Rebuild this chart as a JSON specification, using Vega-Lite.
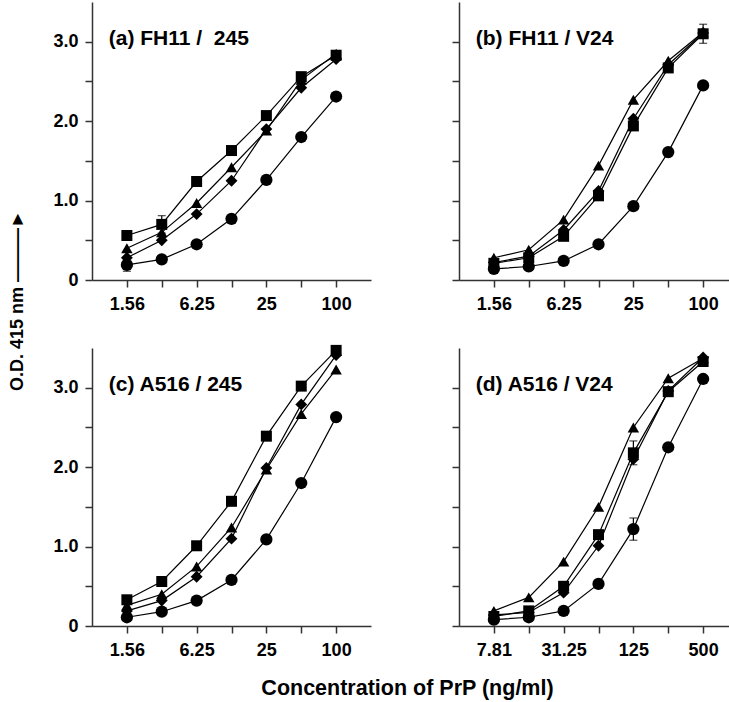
{
  "$schema": "https://vega.github.io/schema/vega-lite/v6.json",
  "autosize": {"type": "pad"},
  "padding": {"left": 8, "top": 2, "right": 0, "bottom": 0},
  "background": "white",
  "config": {
    "font": "Liberation Sans",
    "view": {"stroke": null},
    "axis": {
      "domainColor": "#333",
      "domainWidth": 1.5,
      "tickColor": "#333",
      "tickWidth": 1.5,
      "tickSize": 7,
      "labelFont": "Liberation Sans",
      "labelFontSize": 18,
      "labelFontWeight": "bold",
      "labelColor": "#000",
      "grid": false
    },
    "axisX": {"labelPadding": 8},
    "axisY": {"labelPadding": 7}
  },
  "datasets": {
    "d": [
      {"panel": "a", "series": "sq", "conc": 1.5625, "od": 0.56},
      {"panel": "a", "series": "sq", "conc": 3.125, "od": 0.70, "err": 0.11},
      {"panel": "a", "series": "sq", "conc": 6.25, "od": 1.24},
      {"panel": "a", "series": "sq", "conc": 12.5, "od": 1.63},
      {"panel": "a", "series": "sq", "conc": 25, "od": 2.07},
      {"panel": "a", "series": "sq", "conc": 50, "od": 2.56},
      {"panel": "a", "series": "sq", "conc": 100, "od": 2.83},
      {"panel": "a", "series": "tri", "conc": 1.5625, "od": 0.40},
      {"panel": "a", "series": "tri", "conc": 3.125, "od": 0.60},
      {"panel": "a", "series": "tri", "conc": 6.25, "od": 0.97},
      {"panel": "a", "series": "tri", "conc": 12.5, "od": 1.42},
      {"panel": "a", "series": "tri", "conc": 25, "od": 1.88},
      {"panel": "a", "series": "tri", "conc": 50, "od": 2.52},
      {"panel": "a", "series": "tri", "conc": 100, "od": 2.85},
      {"panel": "a", "series": "dia", "conc": 1.5625, "od": 0.28},
      {"panel": "a", "series": "dia", "conc": 3.125, "od": 0.50},
      {"panel": "a", "series": "dia", "conc": 6.25, "od": 0.83},
      {"panel": "a", "series": "dia", "conc": 12.5, "od": 1.25},
      {"panel": "a", "series": "dia", "conc": 25, "od": 1.90},
      {"panel": "a", "series": "dia", "conc": 50, "od": 2.42},
      {"panel": "a", "series": "dia", "conc": 100, "od": 2.78},
      {"panel": "a", "series": "cir", "conc": 1.5625, "od": 0.19, "err": 0.08},
      {"panel": "a", "series": "cir", "conc": 3.125, "od": 0.26},
      {"panel": "a", "series": "cir", "conc": 6.25, "od": 0.45},
      {"panel": "a", "series": "cir", "conc": 12.5, "od": 0.77},
      {"panel": "a", "series": "cir", "conc": 25, "od": 1.26},
      {"panel": "a", "series": "cir", "conc": 50, "od": 1.80},
      {"panel": "a", "series": "cir", "conc": 100, "od": 2.31},

      {"panel": "b", "series": "sq", "conc": 1.5625, "od": 0.21},
      {"panel": "b", "series": "sq", "conc": 3.125, "od": 0.28},
      {"panel": "b", "series": "sq", "conc": 6.25, "od": 0.55},
      {"panel": "b", "series": "sq", "conc": 12.5, "od": 1.06},
      {"panel": "b", "series": "sq", "conc": 25, "od": 1.94},
      {"panel": "b", "series": "sq", "conc": 50, "od": 2.67},
      {"panel": "b", "series": "sq", "conc": 100, "od": 3.10, "err": 0.12},
      {"panel": "b", "series": "tri", "conc": 1.5625, "od": 0.28},
      {"panel": "b", "series": "tri", "conc": 3.125, "od": 0.38},
      {"panel": "b", "series": "tri", "conc": 6.25, "od": 0.76},
      {"panel": "b", "series": "tri", "conc": 12.5, "od": 1.44},
      {"panel": "b", "series": "tri", "conc": 25, "od": 2.27},
      {"panel": "b", "series": "tri", "conc": 50, "od": 2.76},
      {"panel": "b", "series": "tri", "conc": 100, "od": 3.12},
      {"panel": "b", "series": "dia", "conc": 1.5625, "od": 0.22},
      {"panel": "b", "series": "dia", "conc": 3.125, "od": 0.30},
      {"panel": "b", "series": "dia", "conc": 6.25, "od": 0.63},
      {"panel": "b", "series": "dia", "conc": 12.5, "od": 1.12},
      {"panel": "b", "series": "dia", "conc": 25, "od": 2.03},
      {"panel": "b", "series": "dia", "conc": 50, "od": 2.71},
      {"panel": "b", "series": "dia", "conc": 100, "od": 3.11},
      {"panel": "b", "series": "cir", "conc": 1.5625, "od": 0.14},
      {"panel": "b", "series": "cir", "conc": 3.125, "od": 0.17},
      {"panel": "b", "series": "cir", "conc": 6.25, "od": 0.24},
      {"panel": "b", "series": "cir", "conc": 12.5, "od": 0.45},
      {"panel": "b", "series": "cir", "conc": 25, "od": 0.93},
      {"panel": "b", "series": "cir", "conc": 50, "od": 1.61},
      {"panel": "b", "series": "cir", "conc": 100, "od": 2.45},

      {"panel": "c", "series": "sq", "conc": 1.5625, "od": 0.33},
      {"panel": "c", "series": "sq", "conc": 3.125, "od": 0.56},
      {"panel": "c", "series": "sq", "conc": 6.25, "od": 1.01},
      {"panel": "c", "series": "sq", "conc": 12.5, "od": 1.57},
      {"panel": "c", "series": "sq", "conc": 25, "od": 2.39},
      {"panel": "c", "series": "sq", "conc": 50, "od": 3.02},
      {"panel": "c", "series": "sq", "conc": 100, "od": 3.47},
      {"panel": "c", "series": "tri", "conc": 1.5625, "od": 0.26},
      {"panel": "c", "series": "tri", "conc": 3.125, "od": 0.40},
      {"panel": "c", "series": "tri", "conc": 6.25, "od": 0.75},
      {"panel": "c", "series": "tri", "conc": 12.5, "od": 1.24},
      {"panel": "c", "series": "tri", "conc": 25, "od": 1.97},
      {"panel": "c", "series": "tri", "conc": 50, "od": 2.67},
      {"panel": "c", "series": "tri", "conc": 100, "od": 3.23},
      {"panel": "c", "series": "dia", "conc": 1.5625, "od": 0.19},
      {"panel": "c", "series": "dia", "conc": 3.125, "od": 0.32},
      {"panel": "c", "series": "dia", "conc": 6.25, "od": 0.62},
      {"panel": "c", "series": "dia", "conc": 12.5, "od": 1.10},
      {"panel": "c", "series": "dia", "conc": 25, "od": 1.99},
      {"panel": "c", "series": "dia", "conc": 50, "od": 2.79},
      {"panel": "c", "series": "dia", "conc": 100, "od": 3.41},
      {"panel": "c", "series": "cir", "conc": 1.5625, "od": 0.11},
      {"panel": "c", "series": "cir", "conc": 3.125, "od": 0.18},
      {"panel": "c", "series": "cir", "conc": 6.25, "od": 0.32},
      {"panel": "c", "series": "cir", "conc": 12.5, "od": 0.58},
      {"panel": "c", "series": "cir", "conc": 25, "od": 1.09},
      {"panel": "c", "series": "cir", "conc": 50, "od": 1.80},
      {"panel": "c", "series": "cir", "conc": 100, "od": 2.63},

      {"panel": "d", "series": "sq", "conc": 7.8125, "od": 0.12},
      {"panel": "d", "series": "sq", "conc": 15.625, "od": 0.19},
      {"panel": "d", "series": "sq", "conc": 31.25, "od": 0.50},
      {"panel": "d", "series": "sq", "conc": 62.5, "od": 1.15},
      {"panel": "d", "series": "sq", "conc": 125, "od": 2.18, "err": 0.15},
      {"panel": "d", "series": "sq", "conc": 250, "od": 2.95},
      {"panel": "d", "series": "sq", "conc": 500, "od": 3.33},
      {"panel": "d", "series": "tri", "conc": 7.8125, "od": 0.19},
      {"panel": "d", "series": "tri", "conc": 15.625, "od": 0.36},
      {"panel": "d", "series": "tri", "conc": 31.25, "od": 0.81},
      {"panel": "d", "series": "tri", "conc": 62.5, "od": 1.50},
      {"panel": "d", "series": "tri", "conc": 125, "od": 2.50},
      {"panel": "d", "series": "tri", "conc": 250, "od": 3.12},
      {"panel": "d", "series": "tri", "conc": 500, "od": 3.37},
      {"panel": "d", "series": "dia", "conc": 7.8125, "od": 0.14},
      {"panel": "d", "series": "dia", "conc": 15.625, "od": 0.17},
      {"panel": "d", "series": "dia", "conc": 31.25, "od": 0.42},
      {"panel": "d", "series": "dia", "conc": 62.5, "od": 1.01},
      {"panel": "d", "series": "dia", "conc": 125, "od": 2.10},
      {"panel": "d", "series": "dia", "conc": 250, "od": 2.96},
      {"panel": "d", "series": "dia", "conc": 500, "od": 3.38},
      {"panel": "d", "series": "cir", "conc": 7.8125, "od": 0.08},
      {"panel": "d", "series": "cir", "conc": 15.625, "od": 0.11},
      {"panel": "d", "series": "cir", "conc": 31.25, "od": 0.19},
      {"panel": "d", "series": "cir", "conc": 62.5, "od": 0.53},
      {"panel": "d", "series": "cir", "conc": 125, "od": 1.22, "err": 0.14},
      {"panel": "d", "series": "cir", "conc": 250, "od": 2.25},
      {"panel": "d", "series": "cir", "conc": 500, "od": 3.11}
    ]
  },
  "title": {
    "text": "Concentration of PrP (ng/ml)",
    "orient": "bottom",
    "anchor": "middle",
    "fontSize": 21.5,
    "fontWeight": "bold",
    "color": "#000",
    "offset": 19,
    "dx": 34
  },
  "vconcat": [
    {
      "title": {
        "text": "O.D. 415 nm  ———►",
        "orient": "left",
        "anchor": "middle",
        "fontSize": 18,
        "fontWeight": "bold",
        "color": "#000",
        "offset": 26,
        "dx": 30
      },
      "columns": 2,
      "bounds": "flush",
      "spacing": {"row": 68, "column": 88},
      "concat": [
        {
          "width": 279, "height": 278,
          "layer": [
            {"data": {"name": "d"},
             "transform": [{"filter": "datum.panel == 'a'"}],
             "mark": {"type": "line", "color": "black", "strokeWidth": 1.2},
             "encoding": {
               "x": {"field": "conc", "type": "quantitative", "scale": {"type": "log", "domain": [0.78125, 200], "nice": false}, "axis": {"title": null, "values": [1.5625, 3.125, 6.25, 12.5, 25, 50, 100], "labelExpr": "datum.value < 2 ? '1.56' : datum.value == 6.25 ? '6.25' : datum.value == 25 ? '25' : datum.value == 100 ? '100' : ''"}},
               "y": {"field": "od", "type": "quantitative", "scale": {"domain": [0, 3.5], "nice": false}, "axis": {"title": null, "values": [0, 0.5, 1, 1.5, 2, 2.5, 3], "labelExpr": "datum.value == 0 ? '0' : datum.value % 1 == 0 ? format(datum.value, '.1f') : ''"}},
               "detail": {"field": "series"}
             }},
            {"data": {"name": "d"},
             "transform": [{"filter": "datum.panel == 'a' && datum.err > 0"}],
             "mark": {"type": "errorbar", "color": "black", "ticks": {"size": 8}, "thickness": 1.2},
             "encoding": {
               "x": {"field": "conc", "type": "quantitative"},
               "y": {"field": "od", "type": "quantitative", "title": null},
               "yError": {"field": "err"}
             }},
            {"data": {"name": "d"},
             "transform": [{"filter": "datum.panel == 'a'"}],
             "mark": {"type": "point", "filled": true, "color": "black", "opacity": 1},
             "encoding": {
               "x": {"field": "conc", "type": "quantitative"},
               "y": {"field": "od", "type": "quantitative"},
               "shape": {"field": "series", "type": "nominal", "scale": {"domain": ["sq", "tri", "dia", "cir"], "range": ["square", "triangle-up", "diamond", "circle"]}, "legend": null},
               "size": {"field": "series", "type": "nominal", "scale": {"domain": ["sq", "tri", "dia", "cir"], "range": [121, 150, 150, 100]}, "legend": null}
             }},
            {"data": {"values": [{"label": "(a) FH11 / \u00a0245", "conc": 1.09, "od": 2.96}]},
             "mark": {"type": "text", "align": "left", "baseline": "alphabetic", "fontSize": 21, "fontWeight": "bold", "color": "#000"},
             "encoding": {
               "x": {"field": "conc", "type": "quantitative"},
               "y": {"field": "od", "type": "quantitative"},
               "text": {"field": "label"}
             }}
          ]
        },
        {
          "width": 279, "height": 278,
          "layer": [
            {"data": {"name": "d"},
             "transform": [{"filter": "datum.panel == 'b'"}],
             "mark": {"type": "line", "color": "black", "strokeWidth": 1.2},
             "encoding": {
               "x": {"field": "conc", "type": "quantitative", "scale": {"type": "log", "domain": [0.78125, 200], "nice": false}, "axis": {"title": null, "values": [1.5625, 3.125, 6.25, 12.5, 25, 50, 100], "labelExpr": "datum.value < 2 ? '1.56' : datum.value == 6.25 ? '6.25' : datum.value == 25 ? '25' : datum.value == 100 ? '100' : ''"}},
               "y": {"field": "od", "type": "quantitative", "scale": {"domain": [0, 3.5], "nice": false}, "axis": {"title": null, "values": [0, 0.5, 1, 1.5, 2, 2.5, 3], "labels": false}},
               "detail": {"field": "series"}
             }},
            {"data": {"name": "d"},
             "transform": [{"filter": "datum.panel == 'b' && datum.err > 0"}],
             "mark": {"type": "errorbar", "color": "black", "ticks": {"size": 8}, "thickness": 1.2},
             "encoding": {
               "x": {"field": "conc", "type": "quantitative"},
               "y": {"field": "od", "type": "quantitative", "title": null},
               "yError": {"field": "err"}
             }},
            {"data": {"name": "d"},
             "transform": [{"filter": "datum.panel == 'b'"}],
             "mark": {"type": "point", "filled": true, "color": "black", "opacity": 1},
             "encoding": {
               "x": {"field": "conc", "type": "quantitative"},
               "y": {"field": "od", "type": "quantitative"},
               "shape": {"field": "series", "type": "nominal", "scale": {"domain": ["sq", "tri", "dia", "cir"], "range": ["square", "triangle-up", "diamond", "circle"]}, "legend": null},
               "size": {"field": "series", "type": "nominal", "scale": {"domain": ["sq", "tri", "dia", "cir"], "range": [121, 150, 150, 100]}, "legend": null}
             }},
            {"data": {"values": [{"label": "(b) FH11 / V24", "conc": 1.09, "od": 2.96}]},
             "mark": {"type": "text", "align": "left", "baseline": "alphabetic", "fontSize": 21, "fontWeight": "bold", "color": "#000"},
             "encoding": {
               "x": {"field": "conc", "type": "quantitative"},
               "y": {"field": "od", "type": "quantitative"},
               "text": {"field": "label"}
             }}
          ]
        },
        {
          "width": 279, "height": 278,
          "layer": [
            {"data": {"name": "d"},
             "transform": [{"filter": "datum.panel == 'c'"}],
             "mark": {"type": "line", "color": "black", "strokeWidth": 1.2},
             "encoding": {
               "x": {"field": "conc", "type": "quantitative", "scale": {"type": "log", "domain": [0.78125, 200], "nice": false}, "axis": {"title": null, "values": [1.5625, 3.125, 6.25, 12.5, 25, 50, 100], "labelExpr": "datum.value < 2 ? '1.56' : datum.value == 6.25 ? '6.25' : datum.value == 25 ? '25' : datum.value == 100 ? '100' : ''"}},
               "y": {"field": "od", "type": "quantitative", "scale": {"domain": [0, 3.5], "nice": false}, "axis": {"title": null, "values": [0, 0.5, 1, 1.5, 2, 2.5, 3], "labelExpr": "datum.value == 0 ? '0' : datum.value % 1 == 0 ? format(datum.value, '.1f') : ''"}},
               "detail": {"field": "series"}
             }},
            {"data": {"name": "d"},
             "transform": [{"filter": "datum.panel == 'c'"}],
             "mark": {"type": "point", "filled": true, "color": "black", "opacity": 1},
             "encoding": {
               "x": {"field": "conc", "type": "quantitative"},
               "y": {"field": "od", "type": "quantitative"},
               "shape": {"field": "series", "type": "nominal", "scale": {"domain": ["sq", "tri", "dia", "cir"], "range": ["square", "triangle-up", "diamond", "circle"]}, "legend": null},
               "size": {"field": "series", "type": "nominal", "scale": {"domain": ["sq", "tri", "dia", "cir"], "range": [121, 150, 150, 100]}, "legend": null}
             }},
            {"data": {"values": [{"label": "(c) A516 / 245", "conc": 1.09, "od": 2.96}]},
             "mark": {"type": "text", "align": "left", "baseline": "alphabetic", "fontSize": 21, "fontWeight": "bold", "color": "#000"},
             "encoding": {
               "x": {"field": "conc", "type": "quantitative"},
               "y": {"field": "od", "type": "quantitative"},
               "text": {"field": "label"}
             }}
          ]
        },
        {
          "width": 279, "height": 278,
          "layer": [
            {"data": {"name": "d"},
             "transform": [{"filter": "datum.panel == 'd'"}],
             "mark": {"type": "line", "color": "black", "strokeWidth": 1.2},
             "encoding": {
               "x": {"field": "conc", "type": "quantitative", "scale": {"type": "log", "domain": [3.90625, 1000], "nice": false}, "axis": {"title": null, "values": [7.8125, 15.625, 31.25, 62.5, 125, 250, 500], "labelExpr": "datum.value < 10 ? '7.81' : datum.value == 31.25 ? '31.25' : datum.value == 125 ? '125' : datum.value == 500 ? '500' : ''"}},
               "y": {"field": "od", "type": "quantitative", "scale": {"domain": [0, 3.5], "nice": false}, "axis": {"title": null, "values": [0, 0.5, 1, 1.5, 2, 2.5, 3], "labels": false}},
               "detail": {"field": "series"}
             }},
            {"data": {"name": "d"},
             "transform": [{"filter": "datum.panel == 'd' && datum.err > 0"}],
             "mark": {"type": "errorbar", "color": "black", "ticks": {"size": 8}, "thickness": 1.2},
             "encoding": {
               "x": {"field": "conc", "type": "quantitative"},
               "y": {"field": "od", "type": "quantitative", "title": null},
               "yError": {"field": "err"}
             }},
            {"data": {"name": "d"},
             "transform": [{"filter": "datum.panel == 'd'"}],
             "mark": {"type": "point", "filled": true, "color": "black", "opacity": 1},
             "encoding": {
               "x": {"field": "conc", "type": "quantitative"},
               "y": {"field": "od", "type": "quantitative"},
               "shape": {"field": "series", "type": "nominal", "scale": {"domain": ["sq", "tri", "dia", "cir"], "range": ["square", "triangle-up", "diamond", "circle"]}, "legend": null},
               "size": {"field": "series", "type": "nominal", "scale": {"domain": ["sq", "tri", "dia", "cir"], "range": [121, 150, 150, 100]}, "legend": null}
             }},
            {"data": {"values": [{"label": "(d) A516 / V24", "conc": 5.45, "od": 2.96}]},
             "mark": {"type": "text", "align": "left", "baseline": "alphabetic", "fontSize": 21, "fontWeight": "bold", "color": "#000"},
             "encoding": {
               "x": {"field": "conc", "type": "quantitative"},
               "y": {"field": "od", "type": "quantitative"},
               "text": {"field": "label"}
             }}
          ]
        }
      ]
    }
  ]
}
